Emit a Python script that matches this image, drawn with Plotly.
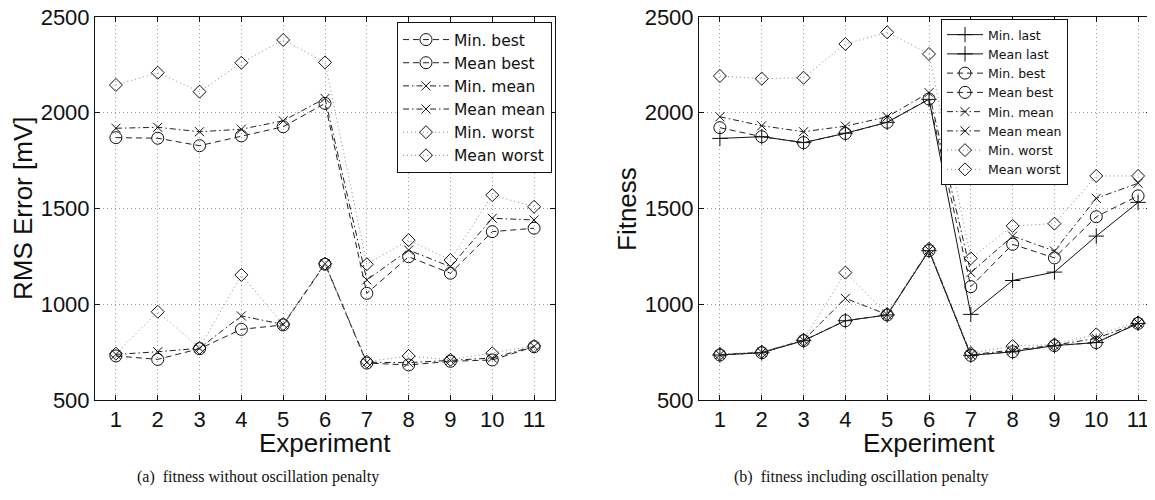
import plotly.graph_objects as go

# ---------------- data ----------------
experiments = [1, 2, 3, 4, 5, 6, 7, 8, 9, 10, 11]
x_ticks = [1, 2, 3, 4, 5, 6, 7, 8, 9, 10, 11]
y_ticks = [500, 1000, 1500, 2000, 2500]

# (a) fitness without oscillation penalty
a_min_best = [730, 712, 768, 869, 892, 1209, 693, 683, 702, 709, 778]
a_mean_best = [1870, 1867, 1828, 1879, 1927, 2049, 1057, 1248, 1162, 1379, 1397]
a_min_mean = [738, 752, 770, 939, 895, 1212, 697, 695, 707, 719, 780]
a_mean_mean = [1919, 1924, 1901, 1914, 1958, 2075, 1127, 1283, 1196, 1449, 1440]
a_min_worst = [742, 961, 772, 1153, 896, 1212, 700, 730, 710, 744, 782]
a_mean_worst = [2145, 2209, 2110, 2261, 2380, 2263, 1209, 1335, 1231, 1570, 1509]

# (b) fitness including oscillation penalty
b_min_last = [735, 747, 810, 914, 944, 1280, 733, 752, 784, 800, 900]
b_mean_last = [1866, 1875, 1844, 1893, 1950, 2070, 947, 1124, 1168, 1356, 1532]
b_min_best = [735, 747, 810, 914, 944, 1280, 733, 752, 784, 800, 900]
b_mean_best = [1922, 1875, 1844, 1892, 1950, 2072, 1092, 1313, 1242, 1457, 1566]
b_min_mean = [737, 749, 812, 1031, 946, 1283, 736, 760, 786, 822, 902]
b_mean_mean = [1979, 1932, 1901, 1930, 1979, 2105, 1165, 1356, 1278, 1553, 1632]
b_min_worst = [740, 752, 815, 1165, 948, 1290, 745, 782, 790, 843, 905]
b_mean_worst = [2192, 2178, 2183, 2359, 2420, 2307, 1240, 1409, 1421, 1670, 1670]

# ---------------- styles ----------------
OFF = 8                      # default page margin of the html body
W, H = 1155 - OFF, 500 - OFF
FONT = "Liberation Sans, Arial, Helvetica, sans-serif"
LEGFONT = "DejaVu Sans, Liberation Sans, Arial, sans-serif"
SERIF = "Liberation Serif, Times New Roman, serif"

STYLES = {
    "last": dict(dash="solid", color="#111111", symbol="cross-thin-open", size=11),
    "best": dict(dash="6px,4px", color="#222222", symbol="circle-open", size=12),
    "mean": dict(dash="6px,3px,1.5px,3px", color="#222222", symbol="x-thin-open", size=9),
    "worst": dict(dash="1px,3px", color="#8a8a8a", symbol="diamond-open", size=10),
}

fig = go.Figure()


def add(name, ys, kind, xa, ya, leg):
    s = STYLES[kind]
    fig.add_trace(go.Scatter(
        x=experiments, y=ys, name=name, mode="lines+markers",
        xaxis=xa, yaxis=ya, legend=leg,
        line=dict(color=s["color"], width=1, dash=s["dash"]),
        marker=dict(symbol=s["symbol"], size=s["size"], color="#111111",
                    line=dict(color="#111111", width=1)),
    ))


add("Min. best", a_min_best, "best", "x", "y", "legend")
add("Mean best", a_mean_best, "best", "x", "y", "legend")
add("Min. mean", a_min_mean, "mean", "x", "y", "legend")
add("Mean mean", a_mean_mean, "mean", "x", "y", "legend")
add("Min. worst", a_min_worst, "worst", "x", "y", "legend")
add("Mean worst", a_mean_worst, "worst", "x", "y", "legend")

add("Min. last", b_min_last, "last", "x2", "y2", "legend2")
add("Mean last", b_mean_last, "last", "x2", "y2", "legend2")
add("Min. best", b_min_best, "best", "x2", "y2", "legend2")
add("Mean best", b_mean_best, "best", "x2", "y2", "legend2")
add("Min. mean", b_min_mean, "mean", "x2", "y2", "legend2")
add("Mean mean", b_mean_mean, "mean", "x2", "y2", "legend2")
add("Min. worst", b_min_worst, "worst", "x2", "y2", "legend2")
add("Mean worst", b_mean_worst, "worst", "x2", "y2", "legend2")


def px(v):
    return (v - OFF) / W


def py(v):
    return 1 - (v - OFF) / H


axis_common = dict(
    showline=True, linecolor="#111111", linewidth=1, mirror="ticks",
    ticks="inside", ticklen=5, tickcolor="#111111", tickwidth=1,
    showgrid=True, gridcolor="#9a9a9a", gridwidth=1, griddash="1px,3px",
    zeroline=False, ticklabeloverflow="allow", automargin=False,
    tickfont=dict(family=FONT, size=22, color="#111111"),
)

spacing = (555 - 95) / 11.0
right_end = 1151
fig.update_layout(
    width=W, height=H,
    margin=dict(l=0, r=0, t=0, b=0, pad=0, autoexpand=False),
    paper_bgcolor="white", plot_bgcolor="white",
    font=dict(family=FONT, color="#111111"),
    xaxis=dict(domain=[px(95), px(555)], range=[0.5, 11.5], tickvals=x_ticks,
               anchor="y", **axis_common),
    yaxis=dict(domain=[py(400), py(17)], range=[500, 2500], tickvals=y_ticks,
               anchor="x", **axis_common),
    xaxis2=dict(domain=[px(699), px(right_end)],
                range=[0.5, 0.5 + (right_end - 699) / spacing], tickvals=x_ticks,
                anchor="y2", **axis_common),
    yaxis2=dict(domain=[py(400), py(17)], range=[500, 2500], tickvals=y_ticks,
                anchor="x2", **axis_common),
    legend=dict(x=px(552), xanchor="right", y=py(22), yanchor="top",
                bgcolor="white", bordercolor="#111111", borderwidth=1,
                font=dict(family=LEGFONT, size=15.5, color="#111111"),
                tracegroupgap=0, itemwidth=46),
    legend2=dict(x=px(941), xanchor="left", y=py(19), yanchor="top",
                 bgcolor="white", bordercolor="#111111", borderwidth=1,
                 font=dict(family=LEGFONT, size=12.5, color="#111111"),
                 tracegroupgap=0, itemwidth=36),
)

ann = [
    dict(text="RMS Error [mV]", x=px(23), y=py(209), textangle=-90, size=26, fam=FONT),
    dict(text="Fitness", x=px(627), y=py(209), textangle=-90, size=26, fam=FONT),
    dict(text="Experiment", x=px(325), y=py(443), textangle=0, size=26, fam=FONT),
    dict(text="Experiment", x=px(929), y=py(443), textangle=0, size=26, fam=FONT),
    dict(text="(a)  fitness without oscillation penalty", x=px(258), y=py(477),
         textangle=0, size=16, fam=SERIF),
    dict(text="(b)  fitness including oscillation penalty", x=px(861), y=py(477),
         textangle=0, size=16, fam=SERIF),
]
for a in ann:
    fig.add_annotation(text=a["text"], x=a["x"], y=a["y"], xref="paper", yref="paper",
                       xanchor="center", yanchor="middle", showarrow=False,
                       textangle=a["textangle"],
                       font=dict(family=a["fam"], size=a["size"], color="#111111"))

fig.write_html("out.html")
